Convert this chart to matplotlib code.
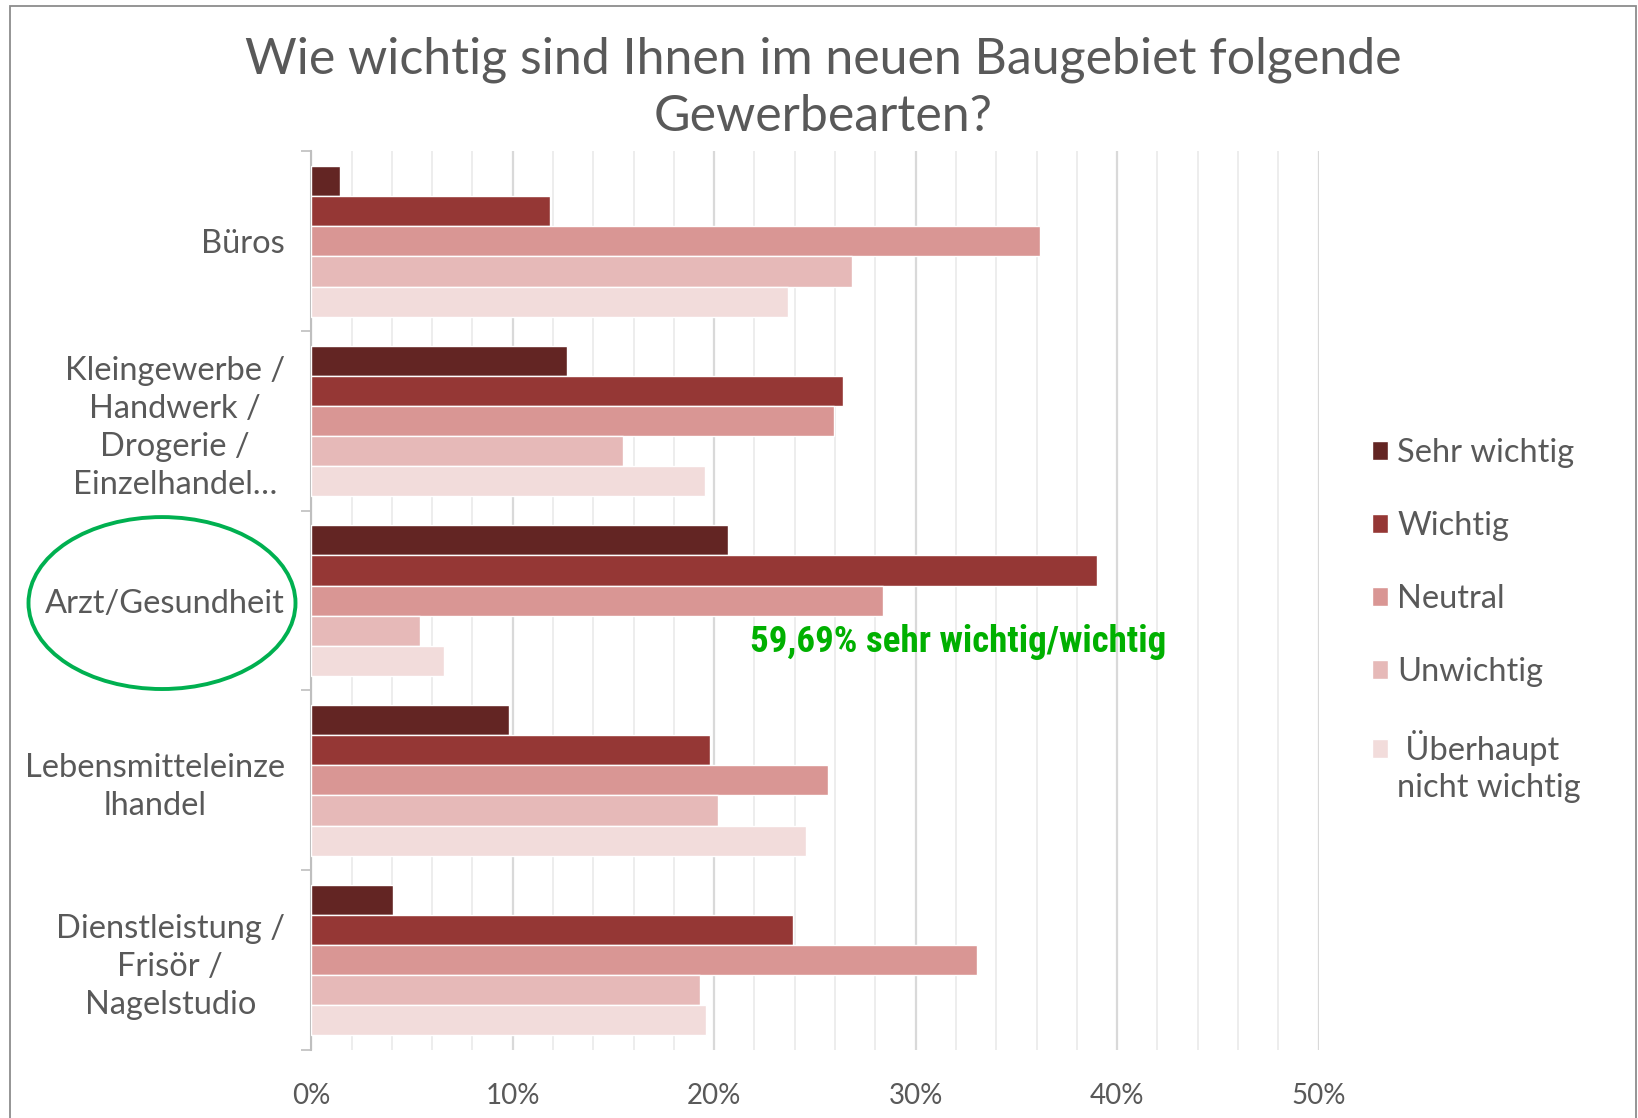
import matplotlib
matplotlib.use("Agg")
import matplotlib.pyplot as plt
import numpy as np
from matplotlib import font_manager
from matplotlib.ticker import PercentFormatter, MultipleLocator, FixedLocator
from matplotlib.patches import Ellipse, Rectangle

# ---------------- data ----------------
categories = ["Büros",
              "Kleingewerbe /\nHandwerk /\nDrogerie /\nEinzelhandel…",
              "Arzt/Gesundheit",
              "Lebensmitteleinze\nlhandel",
              "Dienstleistung /\nFrisör /\nNagelstudio"]
series_names = ["Sehr wichtig", "Wichtig", "Neutral", "Unwichtig", " Überhaupt\nnicht wichtig"]
sehr_wichtig = [1.45, 12.68, 20.69, 9.81, 4.04]
wichtig = [11.87, 26.40, 39.00, 19.77, 23.93]
neutral = [36.18, 25.95, 28.36, 25.63, 33.06]
unwichtig = [26.84, 15.49, 5.38, 20.17, 19.29]
ueberhaupt = [23.68, 19.54, 6.57, 24.55, 19.60]
colors = ["#632523", "#953735", "#D99694", "#E6B9B8", "#F2DCDB"]
title = "Wie wichtig sind Ihnen im neuen Baugebiet folgende\nGewerbearten?"
note = "59,69% sehr wichtig/wichtig"

series = [sehr_wichtig, wichtig, neutral, unwichtig, ueberhaupt]

plt.rcParams['font.family'] = ['Lato', 'DejaVu Sans']
TXT = "#595959"

fig = plt.figure(figsize=(16.38, 11.18), dpi=100)
ax = fig.add_axes([0.190, 0.061, 0.615, 0.8035])

y = np.arange(len(categories))
h = 0.168
for j, (vals, c, name) in enumerate(zip(series, colors, series_names)):
    ax.barh(y + (j - 2) * h, vals, height=h, color=c, edgecolor="white",
            linewidth=1.0, label=name, zorder=3)

ax.set_xlim(0, 50)
ax.set_ylim(len(categories) - 0.5, -0.5)

ax.xaxis.set_major_locator(MultipleLocator(10))
ax.xaxis.set_minor_locator(MultipleLocator(2))
ax.xaxis.set_major_formatter(PercentFormatter(100, decimals=0))
ax.grid(axis="x", which="major", color="#D9D9D9", linewidth=1.6, zorder=0)
ax.grid(axis="x", which="minor", color="#EDEDED", linewidth=1.4, zorder=0)
ax.tick_params(axis="x", which="both", length=0, pad=24, labelsize=20, labelcolor=TXT)

ax.set_yticks(y)
ax.set_yticklabels(categories, multialignment="center")
ax.yaxis.set_minor_locator(FixedLocator(np.arange(-0.5, len(categories), 1.0)))
ax.tick_params(axis="y", which="major", length=0, pad=19, labelsize=23.5, labelcolor=TXT)
ax.tick_params(axis="y", which="minor", length=7, width=1.2, color="#BFBFBF")
for lab in ax.get_yticklabels():
    lab.set_linespacing(1.33)

for s in ["top", "right", "bottom"]:
    ax.spines[s].set_visible(False)
ax.spines["left"].set_color("#BFBFBF")
ax.spines["left"].set_linewidth(1.5)

fig.text(0.5025, 0.921, title, ha="center", va="center", fontsize=36,
         color=TXT, linespacing=1.32)

LEG_FS = 23.5
leg = fig.legend(loc="upper left", bbox_to_anchor=(0.8194, 0.6346), frameon=False,
                 fontsize=LEG_FS, labelcolor=TXT, handlelength=0.5, handleheight=0.5,
                 handletextpad=0.28, labelspacing=1.32)
leg.get_texts()[-1].set_linespacing(1.3)
# put the marker of the two-line entry next to its first line
last = leg.legend_handles[-1]
last.set_y(last.get_y() + 0.5 * 1.3 * LEG_FS * 0.887)

# annotation in a narrow bold face
avail = {f.name for f in font_manager.fontManager.ttflist}
narrow = None
for cand in ["Liberation Sans Narrow", "Roboto Condensed", "DejaVu Sans Condensed",
             "Open Sans Condensed", "Noto Sans Condensed"]:
    if cand in avail:
        narrow = cand
        break
if narrow is None:
    if any(f.name == "DejaVu Sans" and f.stretch == "condensed" for f in font_manager.fontManager.ttflist):
        fam = ["DejaVu Sans"]
    else:
        fam = ["Roboto", "DejaVu Sans"]
else:
    fam = [narrow, "DejaVu Sans"]

note_t = ax.text(21.76, 2.23, note, ha="left", va="center", fontsize=36, color="#00B000",
                 fontweight="bold", family=fam, fontstretch="condensed")
fig.canvas.draw()
w = note_t.get_window_extent().width
target_w = 417.0
if w > target_w:
    note_t.set_fontsize(max(24, 36 * target_w / w))

fig.add_artist(Ellipse((0.0989, 0.4606), 0.163, 0.1538, transform=fig.transFigure,
                       fill=False, edgecolor="#00B050", linewidth=2.8))
fig.add_artist(Rectangle((0.0062, -0.05), 0.9928, 1.0446, transform=fig.transFigure,
                         fill=False, edgecolor="#8C8C8C", linewidth=1.3))

fig.savefig("out.png", dpi=100)
